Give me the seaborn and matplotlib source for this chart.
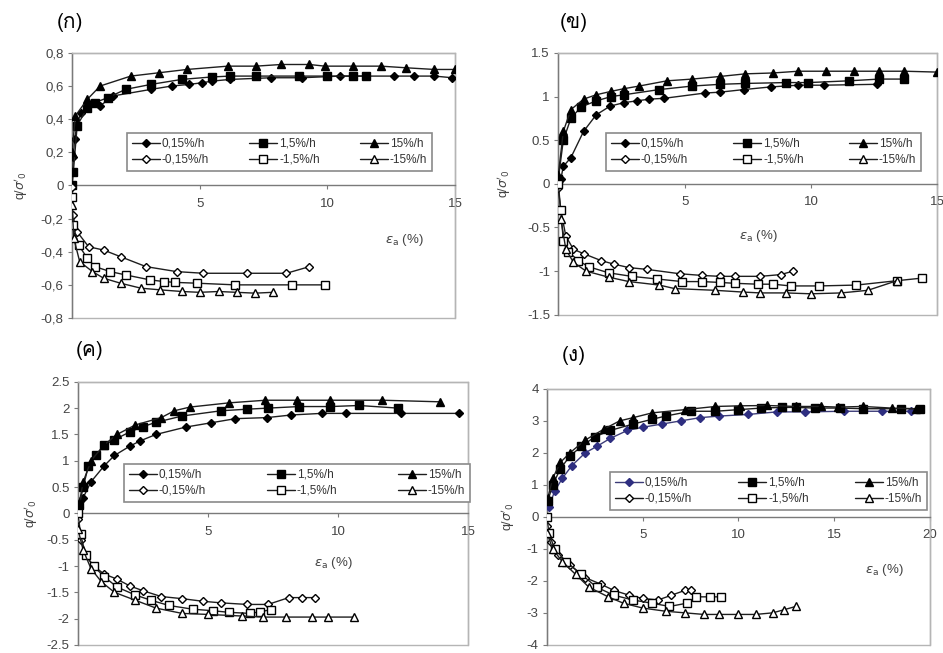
import numpy as np
import pandas as pd
import seaborn as sns
import matplotlib
matplotlib.use("Agg")
import matplotlib.pyplot as plt
from matplotlib import font_manager as fm
from matplotlib.ft2font import FT2Font
from matplotlib.patches import Rectangle

# ---------------- data ----------------
panel_titles = ["(ก)", "(ข)", "(ค)", "(ง)"]
series_labels = ["0,15%/h", "1,5%/h", "15%/h", "-0,15%/h", "-1,5%/h", "-15%/h"]

# Panel (ก)
a_x_p015 = [0.0, 0.05, 0.1, 0.2, 0.35, 0.6, 1.1, 1.6, 3.1, 3.9, 4.6, 5.1, 5.5, 6.2, 7.8, 9.0, 10.5, 11.5, 12.6, 13.4, 14.2, 14.9]
a_y_p015 = [0.0, 0.17, 0.28, 0.37, 0.44, 0.47, 0.48, 0.54, 0.58, 0.6, 0.61, 0.62, 0.63, 0.64, 0.65, 0.65, 0.66, 0.66, 0.66, 0.66, 0.66, 0.65]
a_x_p15 = [0.0, 0.05, 0.2, 0.6, 0.9, 1.4, 2.1, 3.1, 4.3, 5.5, 6.2, 7.2, 8.9, 10.0, 11.0, 11.5]
a_y_p15 = [0.0, 0.08, 0.36, 0.47, 0.5, 0.53, 0.58, 0.61, 0.64, 0.655, 0.66, 0.66, 0.66, 0.66, 0.66, 0.66]
a_x_p150 = [0.0, 0.13, 0.6, 1.1, 2.3, 3.4, 4.5, 6.1, 7.2, 8.2, 9.3, 9.9, 11.0, 12.1, 13.1, 14.2, 15.0]
a_y_p150 = [0.2, 0.42, 0.52, 0.6, 0.66, 0.68, 0.7, 0.72, 0.72, 0.73, 0.73, 0.72, 0.72, 0.72, 0.71, 0.7, 0.7]
a_x_n015 = [0.0, 0.02, 0.2, 0.65, 1.24, 1.9, 2.9, 4.1, 5.15, 6.85, 8.4, 9.3]
a_y_n015 = [-0.01, -0.18, -0.28, -0.37, -0.39, -0.43, -0.49, -0.52, -0.53, -0.53, -0.53, -0.49]
a_x_n15 = [0.0, 0.04, 0.26, 0.6, 0.9, 1.5, 2.1, 3.06, 3.6, 4.04, 4.9, 6.4, 8.6, 9.9]
a_y_n15 = [-0.07, -0.24, -0.36, -0.44, -0.49, -0.52, -0.54, -0.57, -0.58, -0.585, -0.59, -0.6, -0.6, -0.6]
a_x_n150 = [0.0, 0.07, 0.3, 0.8, 1.24, 1.9, 2.7, 3.45, 4.3, 5.0, 5.74, 6.45, 7.17, 7.86]
a_y_n150 = [-0.12, -0.32, -0.46, -0.52, -0.56, -0.59, -0.62, -0.63, -0.64, -0.645, -0.64, -0.645, -0.65, -0.645]

# Panel (ข)
b_x_p015 = [0.1, 0.2, 0.5, 1.0, 1.5, 2.05, 2.6, 3.1, 3.6, 4.2, 5.8, 6.4, 7.35, 8.4, 9.5, 10.5, 12.6]
b_y_p015 = [0.05, 0.2, 0.3, 0.6, 0.79, 0.89, 0.93, 0.95, 0.97, 0.98, 1.04, 1.05, 1.08, 1.11, 1.13, 1.13, 1.14]
b_x_p15 = [0.0, 0.2, 0.5, 0.9, 1.5, 2.1, 2.6, 4.0, 5.3, 6.4, 7.4, 9.0, 9.9, 11.5, 12.7, 13.7]
b_y_p15 = [0.05, 0.5, 0.75, 0.88, 0.95, 1.0, 1.02, 1.08, 1.12, 1.14, 1.15, 1.16, 1.16, 1.18, 1.2, 1.2]
b_x_p150 = [0.0, 0.2, 0.5, 1.0, 1.5, 2.1, 2.6, 3.2, 4.3, 5.3, 6.4, 7.4, 8.5, 9.5, 10.6, 11.7, 12.7, 13.7, 15.0]
b_y_p150 = [0.1, 0.6, 0.85, 0.97, 1.02, 1.06, 1.09, 1.12, 1.18, 1.2, 1.23, 1.26, 1.27, 1.29, 1.29, 1.29, 1.29, 1.29, 1.28]
b_x_n015 = [0.0, 0.1, 0.3, 0.6, 1.0, 1.7, 2.2, 2.8, 3.5, 4.8, 5.7, 6.4, 7.0, 8.0, 8.8, 9.3]
b_y_n015 = [-0.05, -0.3, -0.6, -0.75, -0.8, -0.88, -0.92, -0.96, -0.98, -1.03, -1.05, -1.06, -1.06, -1.06, -1.04, -1.0]
b_x_n15 = [0.0, 0.1, 0.2, 0.4, 0.8, 1.2, 2.0, 2.9, 3.9, 4.9, 5.7, 6.4, 7.0, 7.9, 8.5, 9.2, 10.3, 11.8, 13.4, 14.4]
b_y_n15 = [0.0, -0.3, -0.65, -0.78, -0.88, -0.95, -1.02, -1.06, -1.09, -1.12, -1.12, -1.13, -1.14, -1.15, -1.15, -1.17, -1.17, -1.16, -1.11, -1.08]
b_x_n150 = [0.1, 0.3, 0.6, 1.1, 2.0, 2.8, 4.0, 4.6, 6.2, 7.3, 8.0, 9.0, 10.0, 11.2, 12.25, 13.4]
b_y_n150 = [-0.4, -0.75, -0.9, -1.0, -1.07, -1.12, -1.16, -1.2, -1.22, -1.24, -1.25, -1.25, -1.26, -1.25, -1.22, -1.11]

# Panel (ค)
c_x_p015 = [0.05, 0.2, 0.5, 1.0, 1.4, 2.0, 2.4, 3.0, 4.14, 5.1, 6.05, 7.26, 8.2, 9.36, 10.3, 12.4, 14.65]
c_y_p015 = [0.1, 0.3, 0.6, 0.9, 1.1, 1.28, 1.38, 1.5, 1.64, 1.72, 1.8, 1.82, 1.87, 1.9, 1.9, 1.9, 1.9]
c_x_p15 = [0.05, 0.2, 0.4, 0.7, 1.0, 1.4, 2.0, 2.5, 3.0, 4.0, 5.5, 6.5, 7.3, 8.5, 9.7, 10.8, 12.3]
c_y_p15 = [0.15, 0.5, 0.9, 1.1, 1.3, 1.4, 1.55, 1.65, 1.73, 1.85, 1.95, 1.98, 2.0, 2.03, 2.03, 2.05, 2.0]
c_x_p150 = [0.05, 0.2, 0.5, 1.0, 1.5, 2.2, 3.2, 3.7, 4.3, 5.8, 7.2, 8.4, 9.7, 11.7, 13.9]
c_y_p150 = [0.2, 0.6, 1.0, 1.3, 1.5, 1.68, 1.82, 1.95, 2.02, 2.1, 2.15, 2.15, 2.15, 2.15, 2.12]
c_x_n015 = [0.0, 0.1, 0.3, 0.6, 1.0, 1.5, 2.0, 2.5, 3.2, 4.0, 4.8, 5.5, 6.5, 7.3, 8.1, 8.6, 9.1]
c_y_n015 = [-0.1, -0.5, -0.8, -1.0, -1.15, -1.25, -1.38, -1.47, -1.58, -1.62, -1.67, -1.7, -1.73, -1.73, -1.6, -1.6, -1.6]
c_x_n15 = [0.0, 0.1, 0.3, 0.6, 1.0, 1.5, 2.2, 2.8, 3.5, 4.4, 5.2, 5.8, 6.6, 7.0, 7.4]
c_y_n15 = [0.0, -0.4, -0.8, -1.0, -1.2, -1.4, -1.55, -1.65, -1.75, -1.82, -1.85, -1.88, -1.9, -1.87, -1.83]
c_x_n150 = [0.0, 0.2, 0.5, 0.9, 1.4, 2.2, 3.0, 4.0, 5.0, 6.3, 7.1, 8.0, 9.0, 9.6, 10.6]
c_y_n150 = [-0.3, -0.7, -1.05, -1.3, -1.5, -1.65, -1.8, -1.9, -1.92, -1.95, -1.97, -1.97, -1.97, -1.97, -1.97]

# Panel (ง)
d_x_p015 = [0.1, 0.4, 0.8, 1.3, 2.0, 2.6, 3.3, 4.2, 5.0, 6.0, 7.0, 8.0, 9.0, 10.5, 12.0, 13.5, 15.5, 17.5, 19.0]
d_y_p015 = [0.3, 0.8, 1.2, 1.6, 2.0, 2.2, 2.45, 2.7, 2.8, 2.9, 3.0, 3.1, 3.15, 3.2, 3.28, 3.28, 3.3, 3.3, 3.3]
d_x_p15 = [0.05, 0.3, 0.7, 1.2, 1.8, 2.5, 3.3, 4.5, 5.5, 6.2, 7.5, 8.8, 10.0, 11.2, 12.3, 13.0, 14.0, 15.3, 16.5, 18.5, 19.5]
d_y_p15 = [0.5, 1.0, 1.5, 1.9, 2.2, 2.5, 2.7, 2.9, 3.05, 3.15, 3.3, 3.3, 3.35, 3.4, 3.42, 3.42, 3.4, 3.4, 3.38, 3.38, 3.38]
d_x_p150 = [0.05, 0.3, 0.7, 1.2, 2.0, 3.0, 3.8, 4.5, 5.5, 7.2, 8.8, 10.1, 11.5, 13.0, 14.3, 15.2, 16.5, 18.0, 19.3]
d_y_p150 = [0.6, 1.2, 1.7, 2.0, 2.4, 2.75, 3.0, 3.1, 3.25, 3.35, 3.45, 3.47, 3.48, 3.45, 3.45, 3.43, 3.45, 3.4, 3.38]
d_x_n015 = [0.0, 0.2, 0.6, 1.2, 2.0, 2.8, 3.5, 4.3, 5.0, 5.8, 6.5, 7.2, 7.5]
d_y_n015 = [-0.3, -0.8, -1.2, -1.5, -1.9, -2.1, -2.3, -2.45, -2.55, -2.6, -2.45, -2.3, -2.3]
d_x_n15 = [0.0, 0.1, 0.4, 1.0, 1.8, 2.6, 3.5, 4.5, 5.5, 6.4, 7.3, 7.8, 8.5, 9.1]
d_y_n15 = [0.0, -0.5, -1.0, -1.4, -1.8, -2.2, -2.45, -2.6, -2.7, -2.8, -2.7, -2.5, -2.5, -2.5]
d_x_n150 = [0.0, 0.3, 0.8, 1.5, 2.2, 3.2, 4.0, 5.0, 6.2, 7.2, 8.2, 9.0, 10.0, 10.9, 11.8, 12.4, 13.0]
d_y_n150 = [-0.5, -1.0, -1.4, -1.8, -2.2, -2.5, -2.7, -2.85, -2.95, -3.0, -3.05, -3.05, -3.05, -3.05, -3.0, -2.9, -2.8]

panel_data = [
    [(a_x_p015, a_y_p015), (a_x_p15, a_y_p15), (a_x_p150, a_y_p150),
     (a_x_n015, a_y_n015), (a_x_n15, a_y_n15), (a_x_n150, a_y_n150)],
    [(b_x_p015, b_y_p015), (b_x_p15, b_y_p15), (b_x_p150, b_y_p150),
     (b_x_n015, b_y_n015), (b_x_n15, b_y_n15), (b_x_n150, b_y_n150)],
    [(c_x_p015, c_y_p015), (c_x_p15, c_y_p15), (c_x_p150, c_y_p150),
     (c_x_n015, c_y_n015), (c_x_n15, c_y_n15), (c_x_n150, c_y_n150)],
    [(d_x_p015, d_y_p015), (d_x_p15, d_y_p15), (d_x_p150, d_y_p150),
     (d_x_n015, d_y_n015), (d_x_n15, d_y_n15), (d_x_n150, d_y_n150)],
]

x_limits = [(0, 15), (0, 15), (0, 15), (0, 20)]
x_ticks = [[5, 10, 15], [5, 10, 15], [5, 10, 15], [5, 10, 15, 20]]
y_ticks = [
    [0.8, 0.6, 0.4, 0.2, 0, -0.2, -0.4, -0.6, -0.8],
    [1.5, 1, 0.5, 0, -0.5, -1, -1.5],
    [2.5, 2, 1.5, 1, 0.5, 0, -0.5, -1, -1.5, -2, -2.5],
    [4, 3, 2, 1, 0, -1, -2, -3, -4],
]
y_tick_labels = [
    ["0,8", "0,6", "0,4", "0,2", "0", "-0,2", "-0,4", "-0,6", "-0,8"],
    ["1.5", "1", "0.5", "0", "-0.5", "-1", "-1.5"],
    ["2.5", "2", "1.5", "1", "0.5", "0", "-0.5", "-1", "-1.5", "-2", "-2.5"],
    ["4", "3", "2", "1", "0", "-1", "-2", "-3", "-4"],
]

# ---------------- style ----------------
sns.set_theme(style="white")
plt.rcParams["font.family"] = ["Liberation Sans", "DejaVu Sans"]
plt.rcParams["mathtext.fontset"] = "dejavusans"

thai_family = None
preferred = []
for f in fm.fontManager.ttflist:
    try:
        if ord("ก") in FT2Font(f.fname).get_charmap():
            preferred.append(f.name)
    except Exception:
        pass
for name in preferred:
    if "Sans" in name or "Loma" in name or "Garuda" in name:
        thai_family = name
        break
if thai_family is None and preferred:
    thai_family = preferred[0]
title_family = [thai_family, "DejaVu Sans"] if thai_family else ["DejaVu Sans"]

markers = ["D", "s", "^", "D", "s", "^"]
msizes = [4.0, 5.2, 5.6, 3.8, 5.6, 5.2]
filled = [True, True, True, False, False, False]

axes_rects = [
    [0.0764, 0.513, 0.406, 0.406],
    [0.592, 0.518, 0.402, 0.401],
    [0.0827, 0.0123, 0.414, 0.403],
    [0.580, 0.0125, 0.406, 0.392],
]
legend_boxes = [
    (0.1347, 0.7274, 0.3234, 0.0689),
    (0.6426, 0.7289, 0.3340, 0.0674),
    (0.1315, 0.2159, 0.3670, 0.0735),
    (0.6469, 0.2037, 0.3360, 0.0735),
]
xlabel_pos = [(13.0, -0.33), (7.9, -0.6), (9.8, -0.94), (17.6, -1.66)]
title_pos = [(0.074, 0.966), (0.608, 0.966), (0.095, 0.463), (0.608, 0.455)]
ylabel_pads = [8, 10, 5, 7]

fig = plt.figure(figsize=(9.43, 6.53), dpi=100)
fig.patch.set_facecolor("white")

for i in range(4):
    ax = fig.add_axes(axes_rects[i])
    ax.set_facecolor("white")
    for j, (xs, ys) in enumerate(panel_data[i]):
        df = pd.DataFrame({"x": xs, "y": ys})
        col = "#2e2e80" if (i == 3 and j == 0) else "black"
        line_col = "#3c3c78" if (i == 3 and j == 0) else "#1e1e1e"
        sns.lineplot(
            data=df, x="x", y="y", ax=ax, sort=False, estimator=None,
            color=line_col, lw=1.0, marker=markers[j], markersize=msizes[j],
            markerfacecolor=(col if filled[j] else "white"),
            markeredgecolor=col, markeredgewidth=1.0,
            label=series_labels[j], zorder=3,
        )
    ax.set_xlim(*x_limits[i])
    ax.set_ylim(y_ticks[i][-1], y_ticks[i][0])
    ax.set_xticks(x_ticks[i])
    ax.set_xticklabels([str(t) for t in x_ticks[i]])
    ax.set_yticks(y_ticks[i])
    ax.set_yticklabels(y_tick_labels[i])
    ax.spines["bottom"].set_position(("data", 0))
    ax.spines["bottom"].set_color("#7a7a7a")
    ax.spines["left"].set_color("#7a7a7a")
    ax.spines["top"].set_color("#b5b5b5")
    ax.spines["right"].set_color("#b5b5b5")
    for s in ["bottom", "left", "top", "right"]:
        ax.spines[s].set_linewidth(1.0)
    ax.add_patch(Rectangle((0, 0), 1, 1, transform=ax.transAxes, fill=False,
                           ec="#b5b5b5", lw=1.0, clip_on=False, zorder=0.5))
    ax.tick_params(axis="both", which="both", direction="out", length=3,
                   width=0.8, color="#7a7a7a", labelsize=9.5, labelcolor="#444444",
                   bottom=True, left=True)
    ax.tick_params(axis="x", pad=6)
    ax.tick_params(axis="y", pad=3)
    ax.set_xlabel("")
    ax.set_ylabel(r"q/$\sigma'_0$", fontsize=9, color="#444444", labelpad=ylabel_pads[i])
    ax.text(xlabel_pos[i][0], xlabel_pos[i][1], r"$\varepsilon_{\rm a}$ (%)",
            fontsize=9.5, color="#444444", ha="center", va="center")
    handles, labels = ax.get_legend_handles_labels()
    order = [0, 3, 1, 4, 2, 5]
    leg = ax.legend([handles[k] for k in order], [labels[k] for k in order],
                    ncol=3, bbox_to_anchor=legend_boxes[i],
                    bbox_transform=fig.transFigure, loc="upper left",
                    mode="expand", fontsize=8.5, frameon=True, fancybox=False,
                    framealpha=1, edgecolor="#8a8a8a", handlelength=2.4,
                    handletextpad=0.15, columnspacing=0.6, labelspacing=0.35,
                    borderpad=0.4, borderaxespad=0)
    leg.get_frame().set_linewidth(1.2)
    for t in leg.get_texts():
        t.set_color("#333333")
    leg.set_zorder(5)
    fig.text(title_pos[i][0], title_pos[i][1], panel_titles[i], fontsize=15,
             family=title_family, ha="center", va="center", color="black")

fig.savefig("out.png", dpi=100, facecolor="white")
